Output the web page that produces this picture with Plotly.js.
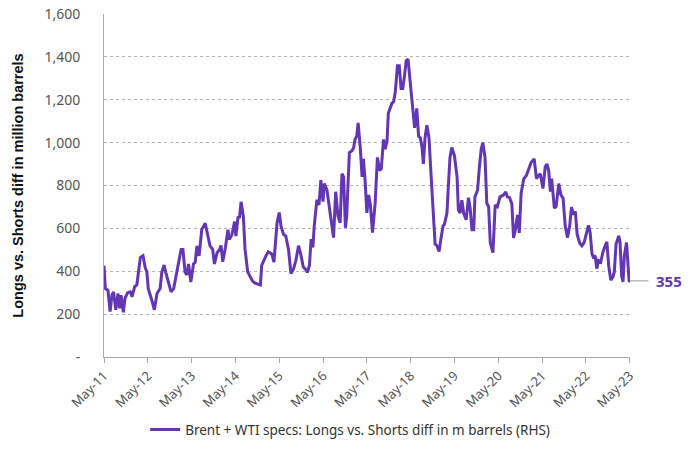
<!DOCTYPE html>
<html>
<head>
<meta charset="utf-8">
<script src="https://cdn.plot.ly/plotly-3.0.1.min.js"></script>
<style>
  html, body { margin: 0; padding: 0; background: #fff; }
  #chart { width: 700px; height: 457px; }
</style>
</head>
<body>
<div id="chart"></div>
<script>
/* Brent + WTI speculators: longs vs. shorts, million barrels */

// decimal years (May-11 ... May-23)
const yearFrac = [
  2011.33, 2011.36, 2011.42, 2011.47, 2011.51, 2011.55, 2011.60, 2011.65, 2011.69, 2011.72,
  2011.77, 2011.81, 2011.87, 2011.93, 2011.97, 2012.03, 2012.08, 2012.16, 2012.22, 2012.27,
  2012.31, 2012.34, 2012.42, 2012.48, 2012.54, 2012.61, 2012.65, 2012.70, 2012.74, 2012.80,
  2012.86, 2012.92, 2012.95, 2013.03, 2013.09, 2013.13, 2013.18, 2013.22, 2013.26, 2013.31,
  2013.37, 2013.41, 2013.45, 2013.50, 2013.56, 2013.64, 2013.69, 2013.75, 2013.81, 2013.85,
  2013.91, 2013.96, 2014.00, 2014.04, 2014.10, 2014.16, 2014.19, 2014.25, 2014.31, 2014.34,
  2014.39, 2014.42, 2014.46, 2014.51, 2014.55, 2014.61, 2014.67, 2014.72, 2014.78, 2014.86,
  2014.90, 2014.93, 2014.97, 2015.03, 2015.08, 2015.16, 2015.21, 2015.28, 2015.33, 2015.37,
  2015.43, 2015.48, 2015.54, 2015.60, 2015.66, 2015.71, 2015.77, 2015.82, 2015.88, 2015.95,
  2015.97, 2016.02, 2016.06, 2016.10, 2016.13, 2016.19, 2016.24, 2016.28, 2016.33, 2016.36,
  2016.42, 2016.45, 2016.51, 2016.57, 2016.62, 2016.67, 2016.72, 2016.76, 2016.80, 2016.84,
  2016.87, 2016.93, 2016.99, 2017.03, 2017.06, 2017.10, 2017.13, 2017.16, 2017.18, 2017.22,
  2017.25, 2017.29, 2017.33, 2017.37, 2017.41, 2017.46, 2017.52, 2017.57, 2017.62, 2017.66,
  2017.71, 2017.75, 2017.79, 2017.82, 2017.86, 2017.90, 2017.94, 2017.98, 2018.03, 2018.07,
  2018.11, 2018.15, 2018.19, 2018.23, 2018.27, 2018.30, 2018.34, 2018.38, 2018.42, 2018.47,
  2018.51, 2018.55, 2018.59, 2018.62, 2018.66, 2018.70, 2018.75, 2018.79, 2018.84, 2018.89,
  2018.93, 2018.98, 2019.02, 2019.07, 2019.10, 2019.16, 2019.19, 2019.23, 2019.27, 2019.33,
  2019.39, 2019.42, 2019.46, 2019.50, 2019.54, 2019.60, 2019.65, 2019.69, 2019.73, 2019.77,
  2019.80, 2019.86, 2019.90, 2019.94, 2019.98, 2020.03, 2020.07, 2020.11, 2020.15, 2020.21,
  2020.26, 2020.31, 2020.37, 2020.45, 2020.50, 2020.54, 2020.59, 2020.64, 2020.68, 2020.72,
  2020.77, 2020.81, 2020.85, 2020.91, 2020.97, 2021.02, 2021.08, 2021.15, 2021.20, 2021.25,
  2021.29, 2021.35, 2021.40, 2021.44, 2021.48, 2021.52, 2021.55, 2021.61, 2021.65, 2021.71,
  2021.76, 2021.81, 2021.86, 2021.91, 2021.96, 2022.00, 2022.05, 2022.09, 2022.13, 2022.19,
  2022.24, 2022.29, 2022.35, 2022.39, 2022.43, 2022.47, 2022.50, 2022.54, 2022.58, 2022.62,
  2022.67, 2022.72, 2022.77, 2022.81, 2022.85, 2022.90, 2022.95, 2022.98, 2023.02, 2023.08,
  2023.11, 2023.15, 2023.18, 2023.21, 2023.26, 2023.29, 2023.32, 2023.34
];

const longsVsShorts = [
  426, 319, 311, 212, 288, 304, 220, 296, 227, 288,
  209, 273, 300, 304, 281, 327, 337, 464, 472, 418,
  395, 319, 266, 220, 296, 319, 395, 429, 395, 350,
  304, 319, 350, 434, 502, 502, 395, 383, 434, 350,
  434, 441, 518, 472, 594, 624, 579, 518, 502, 434,
  487, 499, 520, 444, 510, 594, 548, 571, 632, 564,
  655, 648, 724, 655, 503, 397, 374, 354, 344, 339,
  336, 427, 450, 473, 491, 481, 443, 625, 674, 610,
  572, 564, 503, 389, 412, 450, 519, 481, 420, 405,
  394, 427, 550, 511, 611, 733, 710, 825, 725, 809,
  779, 733, 657, 557, 771, 657, 626, 855, 840, 603,
  657, 954, 962, 977, 1015, 1031, 1092, 1023, 977, 840,
  924, 825, 672, 756, 710, 580, 718, 931, 870, 878,
  1015, 970, 1008, 1137, 1160, 1183, 1191, 1237, 1359, 1359,
  1252, 1252, 1313, 1382, 1390, 1328, 1222, 1130, 1069, 1160,
  1031, 1023, 977, 901, 1023, 1081, 1023, 870, 718, 527,
  519, 492, 550, 611, 618, 672, 794, 931, 977, 939,
  839, 686, 671, 732, 671, 640, 743, 694, 594, 594,
  747, 778, 885, 969, 1000, 931, 717, 701, 533, 487,
  709, 701, 747, 755, 770, 747, 743, 714, 556, 594,
  663, 579, 763, 831, 847, 877, 908, 924, 832, 847,
  855, 786, 886, 901, 870, 771, 832, 695, 702, 809,
  756, 740, 611, 557, 611, 699, 664, 679, 573, 531,
  519, 534, 580, 614, 580, 481, 466, 473, 412, 450,
  443, 489, 519, 537, 427, 359, 374, 397, 527, 565,
  534, 374, 351, 473, 534, 427, 351, 355
];

const yTickVals = [0, 200, 400, 600, 800, 1000, 1200, 1400, 1600];
const yTickText = ['-', '200', '400', '600', '800', '1,000', '1,200', '1,400', '1,600'];

const seriesName = 'Brent + WTI specs: Longs vs. Shorts diff in m barrels (RHS)';
const purple = '#6236b5';
const bodyFont = 'Noto Sans, Liberation Sans, sans-serif';

// decimal year -> ISO date string
function toDate(t) {
  const yr = Math.floor(t);
  const start = Date.UTC(yr, 0, 1);
  const end = Date.UTC(yr + 1, 0, 1);
  return new Date(start + (t - yr) * (end - start)).toISOString().slice(0, 10);
}

const dates = yearFrac.map(toDate);
const lastVal = longsVsShorts[longsVsShorts.length - 1];

const trace = {
  name: seriesName,
  x: dates,
  y: longsVsShorts,
  type: 'scatter',
  mode: 'lines',
  line: { color: purple, width: 3 },
  cliponaxis: false,
};

const layout = {
  width: 700,
  height: 457,
  margin: { l: 104, r: 70, t: 14, b: 93 },
  paper_bgcolor: '#ffffff',
  plot_bgcolor: '#ffffff',
  font: { family: bodyFont, color: '#555555', size: 13 },
  showlegend: true,
  legend: {
    orientation: 'h',
    x: 0.468, // centred on the page, not on the plot area
    xanchor: 'center',
    y: -0.212,
    yanchor: 'middle',
    itemwidth: 30,
    font: { size: 13.5, color: '#333333', family: bodyFont },
  },
  xaxis: {
    type: 'date',
    range: ['2011-05-01', '2023-05-04'],
    tick0: '2011-05-01',
    dtick: 'M12',
    tickformat: '%b-%y',
    tickangle: -45,
    ticks: 'outside',
    ticklen: 5,
    tickcolor: '#aaaaaa',
    showgrid: false,
    showline: true,
    linecolor: '#aaaaaa',
    linewidth: 1,
    zeroline: false,
    tickfont: { size: 13, color: '#555555' },
  },
  yaxis: {
    range: [0, 1600],
    tickvals: yTickVals,
    ticktext: yTickText,
    showgrid: true,
    gridcolor: '#b5b5b5',
    griddash: 'dot',
    gridwidth: 1,
    showline: true,
    linecolor: '#aaaaaa',
    linewidth: 1,
    zeroline: false,
    ticks: '',
    ticklabelstandoff: 20,
    tickfont: { size: 14, color: '#555555' },
    title: {
      text: 'Longs vs. Shorts diff in million barrels',
      font: { size: 14.5, color: '#111111', family: 'Liberation Sans, Arial, sans-serif', weight: 'bold' },
      standoff: 17,
    },
  },
  shapes: [{
    type: 'line',
    xref: 'paper',
    yref: 'y',
    x0: 1.0,
    x1: 1.035,
    y0: lastVal,
    y1: lastVal,
    line: { color: '#999999', width: 1 },
  }],
  annotations: [{
    xref: 'paper',
    yref: 'y',
    x: 1.045,
    y: lastVal,
    xanchor: 'left',
    yanchor: 'middle',
    text: '<b>' + lastVal + '</b>',
    showarrow: false,
    font: { size: 15, color: purple, family: bodyFont },
  }],
};

Plotly.newPlot('chart', [trace], layout, { displayModeBar: false, staticPlot: true });
</script>
</body>
</html>
